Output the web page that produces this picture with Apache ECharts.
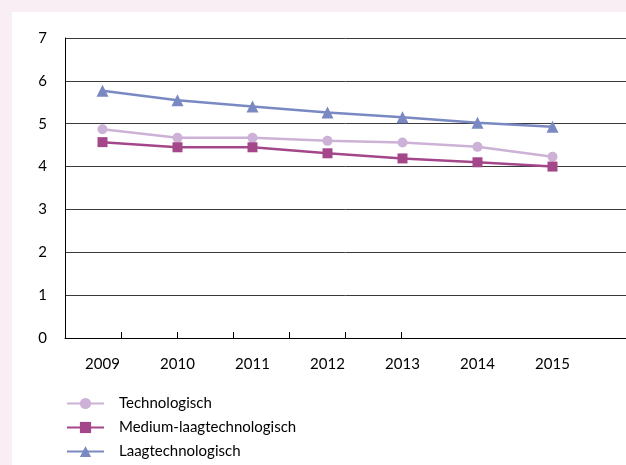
<!DOCTYPE html>
<html>
<head>
<meta charset="utf-8">
<script src="https://cdn.jsdelivr.net/npm/echarts@6/dist/echarts.min.js"></script>
<style>
html,body{margin:0;padding:0;background:#F9EEF4;}
#c{width:626px;height:465px;}
</style>
</head>
<body>
<div id="c"></div>
<script>
const years = ['2009','2010','2011','2012','2013','2014','2015'];
const technologisch = [4.87, 4.67, 4.67, 4.60, 4.56, 4.46, 4.23];
const mediumLaag = [4.57, 4.45, 4.45, 4.31, 4.19, 4.10, 4.00];
const laag = [5.77, 5.55, 5.40, 5.26, 5.15, 5.02, 4.93];
const yTicks = [0, 1, 2, 3, 4, 5, 6, 7];

const font = 'Lato, "Open Sans", sans-serif';
const chart = echarts.init(document.getElementById('c'));
chart.setOption({
  backgroundColor: '#F9EEF4',
  animation: false,
  graphic: [{type: 'rect', left: 12, top: 12, shape: {width: 614, height: 453}, style: {fill: '#ffffff'}, z: -10}],
  textStyle: {fontFamily: font},
  grid: [
    {left: 65, top: 38, width: 525, height: 300},
    {left: 65, top: 38, width: 750, height: 300}
  ],
  xAxis: [
    {type: 'category', gridIndex: 0, data: years, boundaryGap: true,
     axisLine: {show: false}, axisTick: {show: false},
     axisLabel: {color: '#000', fontSize: 15, margin: 19, fontFamily: font}},
    {type: 'value', gridIndex: 1, min: 0, max: 10, interval: 1,
     axisLine: {show: true, lineStyle: {color: '#000', width: 1}},
     axisTick: {show: true, inside: true, length: 6, customValues: [1,2,3,4,5,6], lineStyle: {color: '#000'}},
     axisLabel: {show: false}, splitLine: {show: false}}
  ],
  yAxis: [
    {type: 'value', gridIndex: 0, min: 0, max: 7, interval: 1, show: false},
    {type: 'value', gridIndex: 1, min: 0, max: 7, interval: 1,
     axisLine: {show: true, lineStyle: {color: '#000', width: 1}},
     axisTick: {show: false},
     axisLabel: {color: '#000', fontSize: 15, margin: 18, fontFamily: font,
                 customValues: yTicks},
     splitLine: {show: true, lineStyle: {color: '#3a3a3a', width: 1}}}
  ],
  legend: {
    orient: 'vertical', left: 66, top: 396, padding: 0, itemWidth: 37, itemHeight: 14, itemGap: 9,
    height: 69,
    textStyle: {color: '#000', fontSize: 15, lineHeight: 15, fontFamily: font, padding: [0, 0, 0, 10]},
    data: ['Technologisch', 'Medium-laagtechnologisch', 'Laagtechnologisch']
  },
  series: [
    {name: 'Technologisch', type: 'line', data: technologisch, symbol: 'circle', symbolSize: 10,
     color: '#CDB1D7', lineStyle: {width: 2.5, color: '#CDB1D7'}, itemStyle: {color: '#CDB1D7'}},
    {name: 'Medium-laagtechnologisch', type: 'line', data: mediumLaag, symbol: 'rect', symbolSize: 10,
     color: '#A3478A', lineStyle: {width: 2.5, color: '#A3478A'}, itemStyle: {color: '#A3478A'}},
    {name: 'Laagtechnologisch', type: 'line', data: laag, symbol: 'triangle', symbolSize: 12,
     color: '#7A89C2', lineStyle: {width: 2.5, color: '#7A89C2'}, itemStyle: {color: '#7A89C2'}}
  ]
});
</script>
</body>
</html>
